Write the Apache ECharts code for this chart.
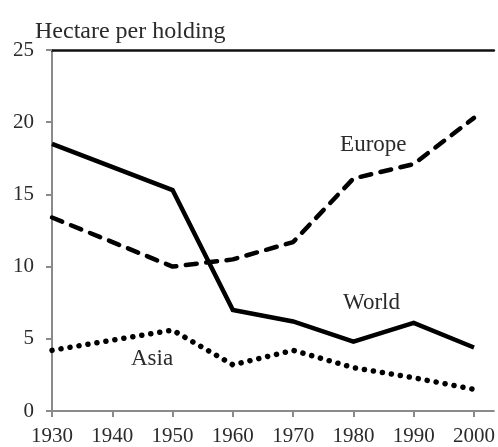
<!DOCTYPE html>
<html><head><meta charset="utf-8">
<script src="https://cdn.jsdelivr.net/npm/echarts@6/dist/echarts.min.js"></script>
<style>html,body{margin:0;padding:0;background:#fff}#c{width:498px;height:447px}</style>
</head><body><div id="c"></div>
<script>
const years = [1930, 1940, 1950, 1960, 1970, 1980, 1990, 2000];
const worldYears = [1930, 1950, 1960, 1970, 1980, 1990, 2000];
const world = [18.5, 15.3, 7.0, 6.2, 4.8, 6.1, 4.4];
const europeYears = [1930, 1950, 1960, 1970, 1980, 1990, 2000];
const europe = [13.4, 10.0, 10.5, 11.7, 16.1, 17.1, 20.3];
const asiaYears = [1930, 1950, 1960, 1970, 1980, 1990, 2000];
const asia = [4.2, 5.6, 3.2, 4.2, 3.0, 2.3, 1.5];
const yTicks = [0, 5, 10, 15, 20, 25];
const labels = [
  {name: 'Europe', coord: [1983.3, 18.4]},
  {name: 'World', coord: [1983, 7.45]},
  {name: 'Asia', coord: [1946.6, 3.58]}
];
const pairs = (xs, ys) => xs.map((x, i) => [x, ys[i]]);
const font = 'Liberation Serif';
const textColor = '#2a2a2a';
const chart = echarts.init(document.getElementById('c'), null, {renderer: 'canvas'});
const lbl = {show: true, position: 'inside', formatter: '{b}', fontFamily: font, fontSize: 23, color: textColor};
chart.setOption({
  animation: false,
  backgroundColor: '#fff',
  title: {text: 'Hectare per holding', left: 30, top: 15,
    textStyle: {fontFamily: font, fontSize: 24, fontWeight: 'normal', color: textColor}},
  grid: {left: 52, right: 0, top: 50, bottom: 34},
  xAxis: [{
    type: 'value', min: 1930, max: 2003.3, interval: 10,
    axisLine: {lineStyle: {color: '#8a8a8a', width: 2}},
    axisTick: {show: true, length: 6, lineStyle: {color: '#8a8a8a', width: 2}},
    axisLabel: {fontFamily: font, fontSize: 21, color: textColor, margin: 15, showMaxLabel: false,
      formatter: v => (years.indexOf(v) >= 0 ? String(v) : '')},
    splitLine: {show: false}
  }, {
    type: 'value', position: 'top', min: 1930, max: 2003.3,
    axisLine: {show: true, lineStyle: {color: '#111', width: 2.5}},
    axisTick: {show: false}, axisLabel: {show: false}, splitLine: {show: false}
  }],
  yAxis: {
    type: 'value', min: 0, max: 25, interval: 5,
    axisLine: {show: true, lineStyle: {color: '#8a8a8a', width: 2}},
    axisTick: {show: true, length: 6, lineStyle: {color: '#8a8a8a', width: 2}},
    axisLabel: {fontFamily: font, fontSize: 21, color: textColor, margin: 18,
      formatter: v => (yTicks.indexOf(v) >= 0 ? String(v) : '')},
    splitLine: {show: false}
  },
  series: [
    {type: 'line', name: 'World', data: pairs(worldYears, world), symbol: 'none',
      lineStyle: {color: '#000', width: 4.5, join: 'miter'},
      markPoint: {symbol: 'circle', symbolSize: 0, data: [labels[1]], label: lbl}},
    {type: 'line', name: 'Europe', data: pairs(europeYears, europe), symbol: 'none',
      lineStyle: {color: '#000', width: 4.5, type: [11, 9.5], cap: 'round'},
      markPoint: {symbol: 'circle', symbolSize: 0, data: [labels[0]], label: lbl}},
    {type: 'line', name: 'Asia', data: pairs(asiaYears, asia), symbol: 'none',
      lineStyle: {color: '#000', width: 5.5, type: [0.1, 9], cap: 'round'},
      markPoint: {symbol: 'circle', symbolSize: 0, data: [labels[2]], label: lbl}}
  ]
});
</script></body></html>
